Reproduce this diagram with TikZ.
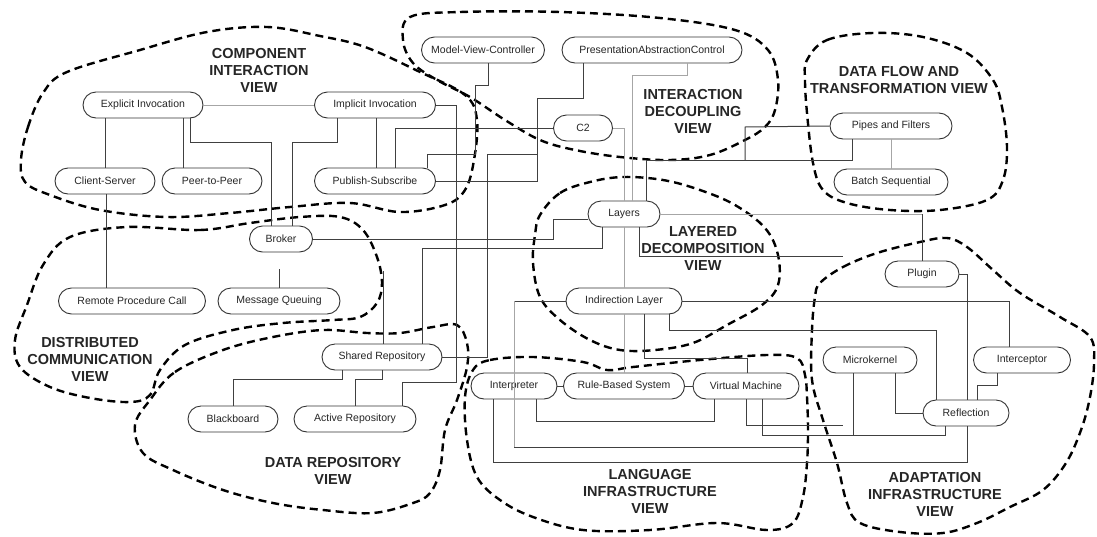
\documentclass[tikz,border=0pt]{standalone}
\usepackage{fontspec}
\setmainfont{Liberation Sans}
\begin{document}
\begin{tikzpicture}[x=1pt,y=-1pt,
  box/.style={draw=black!80,line width=0.9pt,rounded corners=13pt,minimum height=26pt,inner sep=2pt,
    font=\fontsize{10.5}{12}\selectfont,text=black!85,fill=white},
  link/.style={draw=black!75,line width=1pt},
  lightlink/.style={draw=black!35,line width=0.8pt},
  blob/.style={draw=black,line width=2.4pt,dash pattern=on 8pt off 5pt},
  viewtitle/.style={font=\fontsize{14.5}{17}\selectfont\bfseries,align=center,text=black!85}]
\useasboundingbox (0,0) rectangle (1097,536);
\fill[white] (0,0) rectangle (1097,536);

% ---- dashed view outlines ----
\draw[blob] plot[smooth cycle,tension=0.6] coordinates {(21,160) (28,127) (43,93) (67,72) (140,50) (207,32) (267,27) (320,36) (365,47) (420,72) (465,95) (477,120) (474,160) (465,190) (445,205) (400,212) (350,203) (290,207) (230,213) (167,217) (100,210) (50,195) (25,182)};
\draw[blob] plot[smooth cycle,tension=0.6] coordinates {(410,17) (460,12) (560,12) (660,18) (735,30) (768,50) (778,80) (775,110) (765,127) (745,140) (710,155) (670,160) (620,157) (575,150) (540,140) (505,120) (470,97) (437,80) (413,63) (403,40)};
\draw[blob] plot[smooth cycle,tension=0.6] coordinates {(807,60) (827,40) (873,33) (923,37) (967,53) (993,80) (1002,107) (1007,147) (1003,180) (987,200) (940,210) (890,210) (847,203) (823,190) (813,163) (807,113) (805,80)};
\draw[blob] plot[smooth cycle,tension=0.6] coordinates {(540,215) (560,193) (590,182) (623,177) (663,180) (700,190) (735,205) (765,228) (778,255) (778,285) (762,305) (727,325) (693,343) (655,350) (620,350) (590,340) (560,320) (540,297) (533,263) (535,235)};
\draw[blob] plot[smooth cycle,tension=0.6] coordinates {(127,227) (200,230) (250,223) (300,217) (340,217) (363,230) (377,257) (382,283) (377,303) (360,317) (333,320) (283,323) (233,330) (185,345) (160,370) (150,395) (130,402) (90,398) (50,387) (20,367) (15,340) (27,305) (43,265) (70,237)};
\draw[blob] plot[smooth cycle,tension=0.6] coordinates {(150,400) (175,372) (223,350) (273,337) (323,330) (367,333) (400,333) (433,327) (457,325) (467,343) (467,367) (457,400) (445,430) (440,470) (430,493) (413,503) (373,513) (323,510) (273,503) (223,490) (173,470) (143,453) (135,425)};
\draw[blob] plot[smooth cycle,tension=0.6] coordinates {(473,370) (490,360) (533,357) (583,362) (607,370) (633,367) (700,360) (767,355) (797,358) (805,375) (807,397) (808,430) (807,463) (803,497) (793,523) (767,530) (717,523) (650,530) (583,530) (533,517) (500,500) (477,477) (467,440) (465,397)};
\draw[blob] plot[smooth cycle,tension=0.6] coordinates {(820,283) (843,267) (877,253) (920,242) (947,238) (967,247) (993,270) (1020,293) (1060,317) (1090,337) (1094,363) (1090,397) (1081,430) (1066,463) (1043,490) (1010,507) (977,523) (943,533) (900,532) (860,523) (847,503) (837,463) (823,420) (812,380) (812,330) (815,297)};

% ---- titles ----
\node[viewtitle] (t1) at (259,70) {COMPONENT\\INTERACTION\\VIEW};
\node[viewtitle] (t2) at (693,111) {INTERACTION\\DECOUPLING\\VIEW};
\node[viewtitle] (t3) at (899,80) {DATA FLOW AND\\TRANSFORMATION VIEW};
\node[viewtitle] (t4) at (703,249) {LAYERED\\DECOMPOSITION\\VIEW};
\node[viewtitle] (t5) at (90,359) {DISTRIBUTED\\COMMUNICATION\\VIEW};
\node[viewtitle] (t6) at (333,471) {DATA REPOSITORY\\VIEW};
\node[viewtitle] (t7) at (650,491) {LANGUAGE\\INFRASTRUCTURE\\VIEW};
\node[viewtitle] (t8) at (935,494) {ADAPTATION\\INFRASTRUCTURE\\VIEW};

% ---- pattern nodes ----
\node[box,minimum width=120pt] (ei) at (143,105) {Explicit Invocation};
\node[box,minimum width=121pt] (ii) at (375,105) {Implicit Invocation};
\node[box,minimum width=100pt] (cs) at (105,181) {Client-Server};
\node[box,minimum width=100pt] (pp) at (212,181) {Peer-to-Peer};
\node[box,minimum width=121pt] (ps) at (375,181) {Publish-Subscribe};
\node[box,minimum width=123pt] (mvc) at (483,50) {Model-View-Controller};
\node[box,minimum width=180pt] (pac) at (652,50) {PresentationAbstractionControl};
\node[box,minimum width=59pt] (c2) at (583,128) {C2};
\node[box,minimum width=122pt] (pf) at (891,126) {Pipes and Filters};
\node[box,minimum width=114pt] (bs) at (891,182) {Batch Sequential};
\node[box,minimum width=72pt] (ly) at (624,214) {Layers};
\node[box,minimum width=63pt] (br) at (281,239) {Broker};
\node[box,minimum width=147pt] (rpc) at (132,301) {Remote Procedure Call};
\node[box,minimum width=122pt] (mq) at (279,301) {Message Queuing};
\node[box,minimum width=74pt] (pl) at (922,274) {Plugin};
\node[box,minimum width=116pt] (il) at (624,301) {Indirection Layer};
\node[box,minimum width=120pt] (sr) at (382,357) {Shared Repository};
\node[box,minimum width=94pt] (mk) at (870,360) {Microkernel};
\node[box,minimum width=97pt] (ic) at (1022,360) {Interceptor};
\node[box,minimum width=86pt] (ip) at (514,386) {Interpreter};
\node[box,minimum width=121pt] (rbs) at (624,386) {Rule-Based System};
\node[box,minimum width=106pt] (vm) at (746,386) {Virtual Machine};
\node[box,minimum width=86pt] (rf) at (966,413) {Reflection};
\node[box,minimum width=90pt] (bb) at (233,419) {Blackboard};
\node[box,minimum width=122pt] (ar) at (355,419) {Active Repository};

% free ends of connectors
\coordinate (brstub) at (279,269);
\coordinate (srstub) at (383,271);
\coordinate (pacjoin) at (537,154);
\coordinate (lyfree) at (843,256);
\coordinate (ilfree) at (809,447);
\coordinate (vmfree) at (843,425);
\coordinate (pfjoin) at (745,160);
\coordinate (mkjoin) at (853,435);

% ---- connectors ----
\begin{scope}[on background layer/.style={}]
% component interaction
\draw[lightlink] (ei.east) -- (ii.west);
\draw[link] (105,0 |- ei.south) -- (105,0 |- cs.north);
\draw[link] (183,0 |- ei.south) -- (183,0 |- pp.north);
\draw[link] (190,0 |- ei.south) -- (190,142) -- (271,142) -- (271,0 |- br.north);
\draw[link] (337,0 |- ii.south) -- (337,142) -- (292,142) -- (292,0 |- br.north);
\draw[link] (376,0 |- ii.south) -- (376,0 |- ps.north);
\draw[link] (395,0 |- ps.north) -- (395,128) -- (c2.west);
\draw[link] (427,0 |- ps.north) -- (427,154) -- (475,154) -- (475,85) -- (488,85) -- (488,0 |- mvc.south);
\draw[link] (ps.east) -- (537,181) -- (537,98) -- (583,98) -- (583,0 |- pac.south);
\draw[link] (ii.east) -- (456,105) -- (456,382) -- (402,382) -- (402,0 |- ar.north);
% distributed communication
\draw[link] (106,0 |- cs.south) -- (106,0 |- rpc.north);
\draw[link] (brstub) -- (279,0 |- mq.north);
\draw[link] (br.east) -- (553,239) -- (553,219) -- (ly.west |- 0,219);
% data repository
\draw[link] (srstub) -- (383,0 |- sr.north);
\draw[link] (422,0 |- sr.north) -- (422,248) -- (602,248) -- (602,0 |- ly.south);
\draw[link] (sr.east) -- (487,357) -- (487,154) -- (pacjoin);
\draw[link] (342,0 |- sr.south) -- (342,379) -- (233,379) -- (233,0 |- bb.north);
\draw[link] (382,0 |- sr.south) -- (382,379) -- (355,379) -- (355,0 |- ar.north);
% interaction decoupling
\draw[lightlink] (c2.east) -- (624,128) -- (624,0 |- ly.north);
\draw[lightlink] (687,0 |- pac.south) -- (687,75) -- (632,75) -- (632,0 |- ly.north);
% data flow
\draw[link] (646,0 |- ly.north) -- (646,160) -- (852,160) -- (852,0 |- pf.south);
\draw[link] (pf.west) -- (745,127) -- (pfjoin);
\draw[lightlink] (pf.south) -- (bs.north);
\draw[lightlink] (ly.east) -- (922,214);
\draw[link] (922,214) -- (922,0 |- pl.north);
% layered
\draw[lightlink] (ly.south) -- (il.north);
\draw[link] (639,0 |- ly.south) -- (639,256) -- (lyfree);
\draw[lightlink] (il.south) -- (rbs.north);
\draw[link] (il.east) -- (1009,301) -- (1009,0 |- ic.north);
\draw[link] (669,0 |- il.south) -- (669,330) -- (936,330) -- (936,0 |- rf.north);
\draw[link] (644,0 |- il.south) -- (644,358) -- (747,358) -- (747,0 |- vm.north);
\draw[link] (il.west) -- (514,301);
\draw[lightlink] (514,301) -- (514,447);
\draw[link] (514,447) -- (ilfree);
% language
\draw[link] (ip.east) -- (rbs.west);
\draw[link] (rbs.east) -- (vm.west);
\draw[link] (536,0 |- ip.south) -- (536,421) -- (714,421) -- (714,0 |- vm.south);
\draw[link] (493,0 |- ip.south) -- (493,462) -- (967,462) -- (967,0 |- rf.south);
\draw[link] (746,0 |- vm.south) -- (746,425) -- (vmfree);
\draw[link] (762,0 |- vm.south) -- (762,435) -- (945,435) -- (945,0 |- rf.south);
% adaptation
\draw[link] (853,0 |- mk.south) -- (mkjoin);
\draw[link] (pl.east) -- (967,274) -- (967,0 |- rf.north);
\draw[link] (997,0 |- ic.south) -- (997,385) -- (977,385) -- (977,0 |- rf.north);
\draw[link] (895,0 |- mk.south) -- (895,413) -- (rf.west);
\end{scope}
\end{tikzpicture}
\end{document}
